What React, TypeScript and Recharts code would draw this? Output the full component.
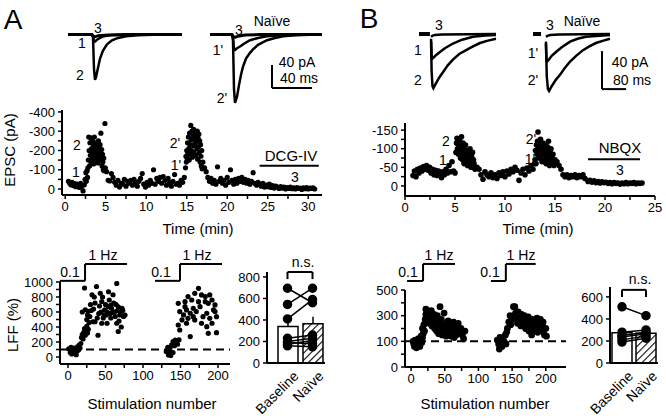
import React from 'react';
import {
  LineChart,
  Line,
  ScatterChart,
  Scatter,
  ComposedChart,
  Bar,
  Cell,
  ErrorBar,
  XAxis,
  YAxis,
  ReferenceLine,
} from 'recharts';

type P = [number, number];
const pts = (a: P[]) => a.map(([t, v]) => ({ t, v }));

// ---- example EPSC traces (t in ms, amplitude in pA) ----
const traceA3: P[] = [[0, 0], [24, 0], [25, -3], [27, -4], [30, -2], [40, -1], [60, 0], [114, 0]];
const traceA1: P[] = [[0, 0], [24, 0], [25, -3], [26, -12], [27, -12.5], [29, -9], [32, -6], [36, -3], [42, -1.5], [55, -0.5], [114, 0]];
const traceA2: P[] = [[0, 0], [24, 0], [25, -5], [26, -60], [27, -79], [28, -74], [30, -58], [32, -42], [35, -28], [39, -17], [44, -10], [50, -6], [58, -3], [70, -1.5], [85, -0.5], [114, 0]];
const traceA3n: P[] = [[0, 0], [22, 0], [23, -3], [25, -5], [28, -3], [35, -1], [50, 0], [112, 0]];
const traceA1n: P[] = [[0, 0], [22, 0], [23, -5], [24, -26], [25, -27], [27, -24], [30, -21], [34, -16], [40, -10], [48, -6], [57, -3], [70, -1.5], [90, -0.5], [112, 0]];
const traceA2n: P[] = [[0, 0], [22, 0], [23, -10], [24, -95], [25, -119], [27, -108], [29, -88], [31, -70], [33, -56], [36, -42], [40, -32], [43, -26], [48, -18], [57, -10], [65, -6], [73, -3], [85, -1.5], [100, -0.5], [112, 0]];

const preB: P[] = [[0, 0], [38, 0]];
const traceB3: P[] = [[42, -3], [46, -2], [55, -1], [80, -0.5], [268, 0]];
const traceB1: P[] = [[42, -5], [44, -24], [46, -26], [50, -25], [60, -22], [73, -19], [90, -15], [118, -10], [150, -6], [188, -3], [230, -1.5], [268, -1]];
const traceB2: P[] = [[42, -8], [44, -40], [47, -55], [50, -57], [59, -52], [70, -46], [84, -40], [100, -33], [118, -27], [140, -21], [164, -17], [188, -13], [212, -9.5], [240, -7], [268, -5]];
const preBn: P[] = [[0, 0], [28, 0]];
const traceB3n: P[] = [[45, -3], [50, -2], [60, -1], [90, -0.5], [268, 0]];
const traceB1n: P[] = [[45, -8], [47, -27], [49, -29], [55, -27], [65, -23], [80, -19], [100, -14], [129, -8], [155, -5], [184, -3], [220, -2], [268, -1]];
const traceB2n: P[] = [[45, -10], [48, -45], [52, -58], [56, -60], [65, -55], [80, -48], [94, -43], [110, -36], [129, -29], [150, -23], [174, -17], [196, -13], [219, -9.5], [245, -7], [268, -5]];

// scale bars: [x, yTop, x2, yBottom]
const scaleA = [62, -53, 102, -93];
const scaleB = [240, -18, 324, -58];

// ---- EPSC time course, panel A (min, -pA) ----
const epscA1: P[] = [[0.4, 40], [0.55, 30], [0.7, 22], [0.85, 35], [1.0, 18], [1.15, 28], [1.3, 12], [1.45, 25], [1.6, 20], [1.75, 8], [1.9, 30], [2.05, 15], [2.2, -10], [2.35, 22]];
const epscA2: P[] = [[2.45, 50], [2.55, 85], [2.6, 40], [2.7, 95], [2.75, 60], [2.8, 110], [2.85, 150], [2.9, 270], [2.95, 200], [3.0, 120], [3.05, 240], [3.1, 175], [3.15, 265], [3.2, 140], [3.25, 210], [3.3, 185], [3.35, 255], [3.4, 160], [3.45, 230], [3.5, 130], [3.55, 195], [3.6, 270], [3.65, 170], [3.7, 215], [3.75, 145], [3.8, 240], [3.85, 185], [3.9, 160], [3.95, 225], [4.0, 200], [4.05, 135], [4.1, 250], [4.15, 175], [4.2, 210], [4.25, 150], [4.3, 230], [4.35, 190], [4.4, 290], [4.45, 165], [4.5, 205], [4.55, 120], [4.6, 180], [4.65, 140], [4.7, 100], [4.75, 160], [4.8, 95], [4.9, 340], [4.95, 110]];
const epscA3: P[] = [[5.1, 90], [5.3, 45], [5.5, 42], [5.7, 80], [5.9, 60], [6.1, 35], [6.3, 20], [6.5, 45], [6.7, 10], [6.9, 30], [7.1, 25], [7.3, 50], [7.5, 15], [7.7, 40], [7.9, 30], [8.1, 45], [8.3, 20], [8.5, 50], [8.7, 35], [8.9, 15], [9.1, 40], [9.3, 55], [9.5, 80], [9.7, 25], [9.9, 10], [10.1, 35], [10.3, 20], [10.5, 45], [10.7, 30], [10.9, 100], [11.1, 25], [11.3, 55], [11.5, 40], [11.7, 60], [11.9, 30], [12.1, 65], [12.3, 45], [12.5, 20], [12.7, 55], [12.9, 35], [13.1, 15], [13.3, 40], [13.5, 75], [13.7, 25], [13.9, 30], [14.1, 20], [14.3, 45], [14.5, 35], [14.7, 60]];
const epscA4: P[] = [[14.85, 110], [14.9, 170], [14.95, 140], [15.0, 200], [15.05, 160], [15.1, 240], [15.15, 185], [15.2, 270], [15.25, 210], [15.3, 150], [15.35, 290], [15.4, 230], [15.45, 180], [15.5, 330], [15.55, 255], [15.6, 200], [15.65, 300], [15.7, 165], [15.75, 275], [15.8, 225], [15.85, 310], [15.9, 190], [15.95, 260], [16.0, 235], [16.05, 295], [16.1, 175], [16.15, 245], [16.2, 280], [16.25, 210], [16.3, 300], [16.35, 155], [16.4, 265], [16.45, 220], [16.5, 285], [16.55, 190], [16.6, 250], [16.65, 140], [16.7, 230], [16.75, 170], [16.8, 120], [16.85, 200], [16.9, 105], [17.0, 140]];
const epscA5: P[] = [[17.2, 110], [17.4, 90], [17.6, 60], [17.8, 40], [18.0, 55], [18.2, 30], [18.4, 45], [18.6, 25], [18.8, 115], [19.0, 40], [19.2, 55], [19.4, 30], [19.6, 45], [19.8, 20], [20.0, 60], [20.2, 35], [20.4, 100], [20.6, 45], [20.8, 25], [21.0, 50], [21.2, 30], [21.4, 55], [21.6, 40], [21.8, 60], [22.0, 35], [22.2, 50], [22.4, 30], [22.6, 45], [22.8, 25], [23.0, 40], [23.2, 85], [23.4, 30], [23.6, 20], [23.8, 35]];
const epscA6: P[] = [[24.0, 25], [24.2, 15], [24.4, 30], [24.6, 10], [24.8, 20], [25.0, 12], [25.2, 25], [25.4, 8], [25.6, 18], [25.8, 5], [26.0, 15], [26.2, 10], [26.4, 3], [26.6, 12], [26.8, 5], [27.0, 10], [27.2, 0], [27.4, 8], [27.6, 3], [27.8, 10], [28.0, 2], [28.2, 6], [28.4, 0], [28.6, 8], [28.8, 3], [29.0, 5], [29.2, -2], [29.4, 6], [29.6, 2], [29.8, 7], [30.0, 0], [30.2, 5], [30.4, 3], [30.6, 6], [30.8, 0]];

// ---- EPSC time course, panel B ----
const epscB1: P[] = [[0.8, 28], [0.95, 40], [1.1, 25], [1.25, 45], [1.4, 35], [1.55, 48], [1.7, 40], [1.85, 52], [2.0, 45], [2.15, 55], [2.3, 42], [2.45, 50], [2.6, 35], [2.75, 45], [2.9, 30], [3.05, 42], [3.2, 28], [3.35, 40], [3.5, 32], [3.65, 22], [3.8, 38], [3.95, 30], [4.1, 45], [4.25, 35], [4.4, 55], [4.55, 38], [4.7, 65], [4.85, 40], [5.0, 35]];
const epscB2: P[] = [[5.1, 90], [5.15, 115], [5.2, 128], [5.25, 100], [5.3, 120], [5.35, 85], [5.4, 110], [5.45, 125], [5.5, 95], [5.55, 75], [5.6, 105], [5.65, 132], [5.7, 88], [5.75, 70], [5.8, 115], [5.85, 95], [5.9, 60], [5.95, 100], [6.0, 80], [6.05, 110], [6.1, 65], [6.15, 90], [6.2, 75], [6.25, 55], [6.3, 95], [6.35, 70], [6.4, 85], [6.45, 60], [6.5, 100], [6.55, 75], [6.6, 50], [6.65, 80], [6.7, 65], [6.75, 90], [6.8, 55], [6.85, 70], [6.9, 60], [7.0, 45]];
const epscB3: P[] = [[7.2, 50], [7.4, 45], [7.6, 30], [7.8, 18], [8.0, 38], [8.2, 30], [8.4, 25], [8.6, 35], [8.8, 22], [9.0, 30], [9.2, 20], [9.4, 35], [9.6, 28], [9.8, 38], [10.0, 25], [10.2, 40], [10.4, 32], [10.6, 45], [10.8, 38], [11.0, 50], [11.2, 42], [11.4, 15], [11.6, 35], [11.8, 45], [12.0, 30], [12.2, 48], [12.4, 40], [12.6, 55], [12.8, 45], [12.95, 60]];
const epscB4: P[] = [[13.0, 70], [13.05, 95], [13.1, 60], [13.15, 110], [13.2, 85], [13.25, 120], [13.3, 145], [13.35, 100], [13.4, 75], [13.45, 115], [13.5, 90], [13.55, 125], [13.6, 80], [13.65, 105], [13.7, 65], [13.75, 95], [13.8, 115], [13.85, 85], [13.9, 100], [13.95, 70], [14.0, 110], [14.05, 90], [14.1, 60], [14.15, 95], [14.2, 80], [14.25, 105], [14.3, 70], [14.35, 120], [14.4, 85], [14.45, 55], [14.5, 90], [14.55, 75], [14.6, 100], [14.65, 65], [14.7, 80], [14.75, 60], [14.8, 85], [14.9, 55], [15.0, 70]];
const epscB5: P[] = [[15.2, 65], [15.4, 55], [15.6, 45], [15.8, 30], [16.0, 25], [16.2, 30], [16.4, 22], [16.6, 28], [16.8, 25], [17.0, 30], [17.2, 22], [17.4, 28], [17.6, 25], [17.8, 30], [18.0, 20]];
const epscB6: P[] = [[18.3, 12], [18.5, 15], [18.7, 10], [18.9, 14], [19.1, 9], [19.3, 12], [19.5, 8], [19.7, 11], [19.9, 9], [20.1, 10], [20.3, 7], [20.5, 9], [20.7, 6], [20.9, 9], [21.1, 7], [21.3, 8], [21.5, 5], [21.7, 8], [21.9, 6], [22.1, 9], [22.3, 6], [22.5, 8], [22.7, 7], [22.9, 9], [23.1, 6], [23.3, 8], [23.5, 7], [23.7, 8]];

// ---- LFF vs stimulation number ----
const lffA1: P[] = [[1, 110], [3, 60], [4, 130], [5, 40], [6, 90], [7, 50], [8, 120], [9, 70], [10, 100], [11, 30], [12, 80], [13, 140], [14, 95], [15, 160], [16, 120], [17, 180]];
const lffA2: P[] = [[18, 260], [19, 300], [20, 240], [21, 330], [22, 380], [23, 290], [24, 350], [25, 410], [26, 320], [27, 370], [28, 460], [22, 920], [19, 600], [23, 630], [27, 610], [31, 620], [38, 940], [43, 850], [32, 830], [54, 870], [65, 980], [60, 830], [36, 720], [45, 740], [25, 500], [29, 540], [36, 470], [40, 290], [47, 520], [49, 630], [54, 670], [56, 580], [58, 650], [62, 600], [67, 670], [69, 560], [72, 650], [74, 540], [67, 340], [65, 450], [52, 450], [45, 450], [34, 640], [41, 580], [50, 700], [55, 760], [61, 720], [39, 520], [44, 600], [48, 560], [52, 600], [57, 520], [63, 540], [70, 600], [73, 620], [26, 560], [30, 700], [35, 800], [42, 680], [46, 800], [59, 590], [64, 700], [68, 480], [71, 400], [33, 470], [51, 560], [57, 690], [66, 620], [76, 560]];
const lffA3: P[] = [[131, 72], [133, 130], [134, 27], [135, 80], [136, 116], [137, 20], [138, 160], [140, 60], [140, 205], [142, 150], [143, 227], [145, 200], [146, 170], [148, 230]];
const lffA4: P[] = [[174, 916], [169, 849], [178, 827], [160, 805], [165, 760], [156, 738], [183, 738], [187, 716], [147, 716], [149, 605], [154, 561], [158, 627], [163, 583], [167, 649], [171, 605], [176, 671], [180, 538], [185, 583], [189, 516], [194, 627], [196, 694], [198, 538], [163, 272], [187, 316], [198, 325], [147, 427], [152, 494], [149, 360], [158, 450], [169, 494], [178, 450], [185, 405], [192, 450], [174, 738], [183, 805], [189, 827], [192, 760], [196, 605], [156, 671], [160, 516], [167, 538]];

const lffB1: P[] = [[3, 100], [4, 80], [5, 60], [6, 110], [7, 70], [8, 50], [9, 90], [10, 75], [11, 120], [12, 85], [13, 60], [14, 100], [15, 140], [16, 90], [17, 130], [18, 160]];
const lffB2: P[] = [[17, 200], [19, 230], [20, 180], [21, 270], [22, 310], [23, 250], [24, 340], [25, 290], [22, 350], [23, 300], [24, 260], [25, 330], [26, 280], [27, 240], [28, 310], [29, 270], [30, 340], [31, 220], [32, 290], [33, 250], [34, 310], [35, 200], [36, 270], [37, 230], [38, 180], [39, 300], [40, 250], [41, 160], [42, 220], [43, 370], [44, 190], [45, 270], [46, 150], [47, 240], [48, 200], [49, 320], [50, 170], [51, 230], [52, 140], [53, 210], [54, 180], [55, 260], [56, 150], [57, 200], [58, 170], [59, 230], [60, 140], [61, 190], [62, 160], [63, 250], [64, 130], [65, 180], [66, 210], [67, 150], [68, 190], [70, 240], [72, 170], [74, 200], [76, 150], [78, 120], [80, 180]];
const lffB3: P[] = [[128, 110], [130, 80], [131, 40], [132, 130], [134, 90], [135, 60], [136, 120], [138, 100], [140, 150], [141, 80], [142, 170]];
const lffB4: P[] = [[143, 200], [145, 250], [147, 300], [148, 230], [150, 270], [152, 370], [154, 370], [155, 320], [156, 280], [158, 240], [159, 330], [160, 290], [162, 260], [163, 220], [164, 310], [165, 270], [167, 240], [168, 300], [170, 200], [171, 260], [172, 230], [174, 290], [175, 180], [176, 250], [178, 210], [179, 150], [180, 270], [182, 230], [183, 190], [184, 260], [186, 220], [187, 280], [188, 170], [190, 240], [191, 200], [192, 270], [194, 180], [195, 230], [196, 250], [198, 150], [200, 200], [201, 140]];

// stimulation protocol steps: [start, switch, end] in stimulation number
const stepsA = [[-10.7, 22.7, 78.7], [116, 149.3, 205.3]];
const stepLevelsA = [1015, 1240];
const stepsB = [[-5.9, 17.8, 65.2], [118.5, 140.7, 185]];
const stepLevelsB = [570, 703];

// ---- summary bars ----
const barCats = ['Baseline', 'Naïve'];
const barMeanA = [340, 365];
const barErrA = [60, 65];
const pairsA: P[] = [[695, 560], [545, 695], [410, 590], [230, 260], [200, 230], [190, 180], [175, 210], [160, 150]];
const barMeanB = [275, 270];
const barErrB = [25, 25];
const pairsB: P[] = [[510, 430], [280, 300], [250, 280], [235, 265], [210, 245], [190, 225]];

const FONT = 'Arial, "Liberation Sans", Helvetica, sans-serif';
const axisLine = { stroke: '#000', strokeWidth: 2 };
const tickLine = { stroke: '#000', strokeWidth: 1.5 };
const tickFont = { fill: '#000', fontSize: 13 };
const range = (a: number, b: number, s: number) => {
  const out: number[] = [];
  for (let v = a; v <= b + 1e-9; v += s) out.push(Math.round(v * 100) / 100);
  return out;
};

// annotation text, centred on (x, y) of the page
const Txt = ({ x, y, size = 14, rotate = 0, children }: { x: number; y: number; size?: number; rotate?: number; children: React.ReactNode }) => (
  <text
    x={x}
    y={y}
    fontSize={size}
    textAnchor="middle"
    dominantBaseline="central"
    fill="#000"
    transform={rotate ? `rotate(${rotate} ${x} ${y})` : undefined}
  >
    {children}
  </text>
);

const seg = (x1: any, y1: number, x2: any, y2: number, key: string, w = 2) => (
  <ReferenceLine
    key={key}
    segment={[{ x: x1, y: y1 }, { x: x2, y: y2 }]}
    stroke="#000"
    strokeWidth={w}
    ifOverflow="visible"
  />
);

const dot = (r: number) => (p: any) => <circle cx={p.cx} cy={p.cy} r={r} fill="#000" />;

interface TraceProps {
  left: number;
  top: number;
  width: number;
  height: number;
  margin: { top: number; right: number; bottom: number; left: number };
  xMax: number;
  yDomain: [number, number];
  lines: { data: P[]; w: number }[];
  scale?: number[];
}

const TracePanel = ({ left, top, width, height, margin, xMax, yDomain, lines, scale }: TraceProps) => (
  <div style={{ position: 'absolute', left, top }}>
    <LineChart width={width} height={height} margin={margin}>
      <XAxis type="number" dataKey="t" domain={[0, xMax]} hide allowDataOverflow />
      <YAxis type="number" dataKey="v" domain={yDomain} hide allowDataOverflow />
      {lines.map((l, i) => (
        <Line
          key={i}
          data={pts(l.data)}
          dataKey="v"
          type="linear"
          dot={false}
          stroke="#000"
          strokeWidth={l.w}
          isAnimationActive={false}
        />
      ))}
      {scale && seg(scale[0], scale[1], scale[0], scale[3], 'sv')}
      {scale && seg(scale[0], scale[3], scale[2], scale[3], 'sh')}
    </LineChart>
  </div>
);

const stepLines = (steps: number[][], lv: number[], id: string) =>
  steps.flatMap(([a, b, c], i) => [
    seg(a, lv[0], b, lv[0], `${id}${i}a`),
    seg(b, lv[0], b, lv[1], `${id}${i}b`),
    seg(b, lv[1], c, lv[1], `${id}${i}c`),
  ]);

// category labels slanted at 45 degrees, ending just under the bar
const SlantTick = (props: any) => {
  const { x, y, payload } = props;
  return (
    <g transform={`translate(${x + 5},${y - 1}) rotate(-45)`}>
      <text textAnchor="end" dy="0.7em" fontSize={14} fill="#000">
        {payload.value}
      </text>
    </g>
  );
};

const buildRows = (mean: number[], err: number[], pairs: P[]) =>
  barCats.map((name, i) => {
    const row: any = { name, mean: mean[i], err: [0, err[i]] };
    pairs.forEach((p, j) => (row[`p${j}`] = p[i]));
    return row;
  });

interface BarProps {
  left: number;
  top: number;
  width: number;
  height: number;
  margin: { top: number; right: number; bottom: number; left: number };
  xh: number;
  yMax: number;
  ticks: number[];
  rows: any[];
  pairs: P[];
  bracket: [number, number];
  pad: number;
}

const SummaryBars = ({ left, top, width, height, margin, xh, yMax, ticks, rows, pairs, bracket, pad }: BarProps) => (
  <div style={{ position: 'absolute', left, top }}>
    <ComposedChart width={width} height={height} margin={margin} data={rows}>
      <XAxis
        dataKey="name"
        type="category"
        axisLine={axisLine}
        tickLine={false}
        tick={(p: any) => <SlantTick {...p} />}
        height={xh}
        padding={{ left: pad, right: 0 }}
        interval={0}
      />
      <YAxis
        type="number"
        domain={[0, yMax]}
        ticks={ticks}
        width={40}
        axisLine={axisLine}
        tickLine={tickLine}
        tick={tickFont}
        tickSize={4}
        tickMargin={3}
        interval={0}
        allowDataOverflow
      />
      <Bar dataKey="mean" barSize={20} stroke="#000" strokeWidth={1.5} isAnimationActive={false}>
        {rows.map((_, i) => (
          <Cell key={i} fill={i === 0 ? '#fff' : 'url(#hatch)'} />
        ))}
        <ErrorBar dataKey="err" width={0} stroke="#000" strokeWidth={1.5} />
      </Bar>
      {pairs.map((_, j) => (
        <Line
          key={j}
          dataKey={`p${j}`}
          stroke="#000"
          strokeWidth={1.5}
          dot={{ r: 4, fill: '#000', stroke: '#000' }}
          isAnimationActive={false}
        />
      ))}
      {seg(barCats[0], bracket[0], barCats[0], bracket[1], 'b1')}
      {seg(barCats[0], bracket[1], barCats[1], bracket[1], 'b2')}
      {seg(barCats[1], bracket[1], barCats[1], bracket[0], 'b3')}
    </ComposedChart>
  </div>
);

const fmtNeg = (step: number) => (v: number) => (v % step === 0 ? (v === 0 ? '0' : `-${v}`) : '');
const fmtEvery = (step: number) => (v: number) => (v % step === 0 ? String(v) : '');
const fmtLffB = (v: number) => ({ [-100]: '0', 100: '100', 300: '300', 500: '500' } as any)[v] || '';

const App = () => {
  const epscA = pts([...epscA1, ...epscA2, ...epscA3, ...epscA4, ...epscA5, ...epscA6]);
  const epscB = pts([...epscB1, ...epscB2, ...epscB3, ...epscB4, ...epscB5, ...epscB6]);
  const lffA = pts([...lffA1, ...lffA2, ...lffA3, ...lffA4]);
  const lffB = pts([...lffB1, ...lffB2, ...lffB3, ...lffB4]);
  const rowsA = buildRows(barMeanA, barErrA, pairsA);
  const rowsB = buildRows(barMeanB, barErrB, pairsB);

  return (
    <div
      style={{
        position: 'absolute',
        left: 0,
        top: 0,
        width: 666,
        height: 418,
        background: '#fff',
        overflow: 'hidden',
        fontFamily: FONT,
      }}
    >
      <svg width={0} height={0} style={{ position: 'absolute' }}>
        <defs>
          <pattern id="hatch" patternUnits="userSpaceOnUse" width={5} height={5} patternTransform="rotate(45)">
            <rect width={5} height={5} fill="#fff" />
            <line x1={0} y1={0} x2={0} y2={5} stroke="#000" strokeWidth={2.2} />
          </pattern>
        </defs>
      </svg>

      {/* example traces */}
      <TracePanel
        left={60}
        top={10}
        width={140}
        height={100}
        margin={{ top: 21.6, right: 18, bottom: 3.6, left: 8 }}
        xMax={114}
        yDomain={[-125, 5]}
        lines={[{ data: traceA3, w: 3 }, { data: traceA1, w: 2.5 }, { data: traceA2, w: 2.5 }]}
      />
      <TracePanel
        left={200}
        top={10}
        width={130}
        height={100}
        margin={{ top: 21.6, right: 8, bottom: 3.6, left: 10 }}
        xMax={112}
        yDomain={[-125, 5]}
        lines={[{ data: traceA3n, w: 3 }, { data: traceA1n, w: 2.5 }, { data: traceA2n, w: 2.5 }]}
        scale={scaleA}
      />
      <TracePanel
        left={400}
        top={10}
        width={110}
        height={100}
        margin={{ top: 20.2, right: 13.4, bottom: 17.1, left: 19 }}
        xMax={270}
        yDomain={[-62, 4]}
        lines={[{ data: preB, w: 4 }, { data: traceB3, w: 2.5 }, { data: traceB1, w: 2.5 }, { data: traceB2, w: 2.5 }]}
      />
      <TracePanel
        left={515}
        top={10}
        width={145}
        height={100}
        margin={{ top: 20.2, right: 49.4, bottom: 17.1, left: 18 }}
        xMax={270}
        yDomain={[-62, 4]}
        lines={[{ data: preBn, w: 4 }, { data: traceB3n, w: 2.5 }, { data: traceB1n, w: 2.5 }, { data: traceB2n, w: 2.5 }]}
        scale={scaleB}
      />

      {/* EPSC time course A */}
      <div style={{ position: 'absolute', left: 0, top: 100 }}>
        <ScatterChart width={330} height={135} margin={{ top: 10, right: 8, bottom: 0, left: 0 }}>
          <XAxis type="number" dataKey="t" domain={[-0.4, 31.7]} ticks={range(0, 30, 2.5)} tickFormatter={fmtEvery(5)}
            axisLine={axisLine} tickLine={tickLine} tick={tickFont} tickSize={4} tickMargin={3} height={40} interval={0} allowDataOverflow />
          <YAxis type="number" dataKey="v" domain={[-31, 410]} ticks={range(0, 400, 50)} tickFormatter={fmtNeg(100)}
            axisLine={axisLine} tickLine={tickLine} tick={tickFont} tickSize={4} tickMargin={3} width={62} interval={0} allowDataOverflow />
          <Scatter data={epscA} shape={dot(2.6)} isAnimationActive={false} />
          {seg(24, 121, 31.3, 121, 'dcg')}
        </ScatterChart>
      </div>

      {/* EPSC time course B */}
      <div style={{ position: 'absolute', left: 333, top: 110 }}>
        <ScatterChart width={333} height={126} margin={{ top: 13, right: 11, bottom: 0, left: 0 }}>
          <XAxis type="number" dataKey="t" domain={[0, 25]} ticks={range(0, 25, 2.5)} tickFormatter={fmtEvery(5)}
            axisLine={axisLine} tickLine={tickLine} tick={tickFont} tickSize={4} tickMargin={3} height={40} interval={0} allowDataOverflow />
          <YAxis type="number" dataKey="v" domain={[-27, 169]} ticks={range(0, 150, 25)} tickFormatter={fmtNeg(50)}
            axisLine={axisLine} tickLine={tickLine} tick={tickFont} tickSize={4} tickMargin={3} width={72} interval={0} allowDataOverflow />
          <Scatter data={epscB} shape={dot(2.8)} isAnimationActive={false} />
          {seg(18.3, 72, 23.5, 72, 'nbqx')}
        </ScatterChart>
      </div>

      {/* LFF A */}
      <div style={{ position: 'absolute', left: 0, top: 240 }}>
        <ScatterChart width={240} height={169} margin={{ top: 41, right: 10, bottom: 0, left: 0 }}>
          <XAxis type="number" dataKey="t" domain={[-10.7, 216]} ticks={range(0, 200, 25)} tickFormatter={fmtEvery(50)}
            axisLine={axisLine} tickLine={tickLine} tick={tickFont} tickSize={4} tickMargin={3} height={45} interval={0} allowDataOverflow />
          <YAxis type="number" dataKey="v" domain={[-93, 1013]} ticks={range(0, 1000, 100)} tickFormatter={fmtEvery(200)}
            axisLine={axisLine} tickLine={tickLine} tick={tickFont} tickSize={4} tickMargin={3} width={60} interval={0} allowDataOverflow />
          <ReferenceLine y={100} stroke="#000" strokeWidth={2} strokeDasharray="8 5" />
          <Scatter data={lffA} shape={dot(2.6)} isAnimationActive={false} />
          {stepLines(stepsA, stepLevelsA, 'sa')}
        </ScatterChart>
      </div>

      {/* LFF B */}
      <div style={{ position: 'absolute', left: 333, top: 240 }}>
        <ScatterChart width={243} height={172} margin={{ top: 50, right: 10, bottom: 0, left: 0 }}>
          <XAxis type="number" dataKey="t" domain={[-9, 230]} ticks={range(0, 200, 25)} tickFormatter={fmtEvery(50)}
            axisLine={axisLine} tickLine={tickLine} tick={tickFont} tickSize={4} tickMargin={3} height={45} interval={0} allowDataOverflow />
          <YAxis type="number" dataKey="v" domain={[-100, 500]} ticks={range(-100, 500, 100)} tickFormatter={fmtLffB}
            axisLine={axisLine} tickLine={tickLine} tick={tickFont} tickSize={4} tickMargin={3} width={72} interval={0} allowDataOverflow />
          <ReferenceLine y={100} stroke="#000" strokeWidth={2} strokeDasharray="8 5" />
          <Scatter data={lffB} shape={dot(3.4)} isAnimationActive={false} />
          {stepLines(stepsB, stepLevelsB, 'sb')}
        </ScatterChart>
      </div>

      {/* summary bars */}
      <SummaryBars
        left={215}
        top={250}
        width={115}
        height={168}
        margin={{ top: 22, right: 5, bottom: 0, left: 12 }}
        xh={55}
        yMax={846}
        ticks={[0, 200, 400, 600, 800]}
        rows={rowsA}
        pairs={pairsA}
        bracket={[780, 846]}
        pad={8}
      />
      <SummaryBars
        left={560}
        top={260}
        width={105}
        height={158}
        margin={{ top: 27, right: 7, bottom: 0, left: 10 }}
        xh={55}
        yMax={690}
        ticks={[0, 200, 400, 600]}
        rows={rowsB}
        pairs={pairsB}
        bracket={[600, 664]}
        pad={0}
      />

      {/* panel letters and annotations */}
      <svg width={666} height={418} style={{ position: 'absolute', left: 0, top: 0, pointerEvents: 'none' }}>
        <Txt x={13} y={19} size={28}>A</Txt>
        <Txt x={369} y={18} size={28}>B</Txt>

        <Txt x={98} y={28}>3</Txt>
        <Txt x={82} y={43}>1</Txt>
        <Txt x={80} y={75}>2</Txt>
        <Txt x={239} y={30}>3</Txt>
        <Txt x={218} y={50}>1'</Txt>
        <Txt x={222} y={98}>2'</Txt>
        <Txt x={272} y={21}>Naïve</Txt>
        <Txt x={297} y={62}>40 pA</Txt>
        <Txt x={299} y={78}>40 ms</Txt>

        <Txt x={439} y={25}>3</Txt>
        <Txt x={418} y={50}>1</Txt>
        <Txt x={418} y={80}>2</Txt>
        <Txt x={550} y={25}>3</Txt>
        <Txt x={533} y={53}>1'</Txt>
        <Txt x={533} y={80}>2'</Txt>
        <Txt x={582} y={21}>Naïve</Txt>
        <Txt x={630} y={62}>40 pA</Txt>
        <Txt x={632} y={80}>80 ms</Txt>

        <Txt x={9} y={150} size={15} rotate={-90}>EPSC (pA)</Txt>
        <Txt x={198} y={228} size={15}>Time (min)</Txt>
        <Txt x={77} y={145}>2</Txt>
        <Txt x={76} y={172}>1</Txt>
        <Txt x={175} y={143}>2'</Txt>
        <Txt x={176} y={165}>1'</Txt>
        <Txt x={291} y={155} size={15}>DCG-IV</Txt>
        <Txt x={295} y={177}>3</Txt>

        <Txt x={538} y={228} size={15}>Time (min)</Txt>
        <Txt x={446} y={141}>2</Txt>
        <Txt x={443} y={160}>1</Txt>
        <Txt x={531} y={139}>2'</Txt>
        <Txt x={530} y={159}>1'</Txt>
        <Txt x={620} y={147} size={15}>NBQX</Txt>
        <Txt x={620} y={170}>3</Txt>

        <Txt x={12} y={325} size={15} rotate={-90}>LFF (%)</Txt>
        <Txt x={152} y={403} size={15}>Stimulation number</Txt>
        <Txt x={70} y={272}>0.1</Txt>
        <Txt x={103} y={255}>1 Hz</Txt>
        <Txt x={161} y={272}>0.1</Txt>
        <Txt x={197} y={255}>1 Hz</Txt>

        <Txt x={485} y={403} size={15}>Stimulation number</Txt>
        <Txt x={408} y={272}>0.1</Txt>
        <Txt x={439} y={255}>1 Hz</Txt>
        <Txt x={490} y={272}>0.1</Txt>
        <Txt x={521} y={255}>1 Hz</Txt>

        <Txt x={303} y={262}>n.s.</Txt>
        <Txt x={640} y={279}>n.s.</Txt>
      </svg>
    </div>
  );
};

export default App;
